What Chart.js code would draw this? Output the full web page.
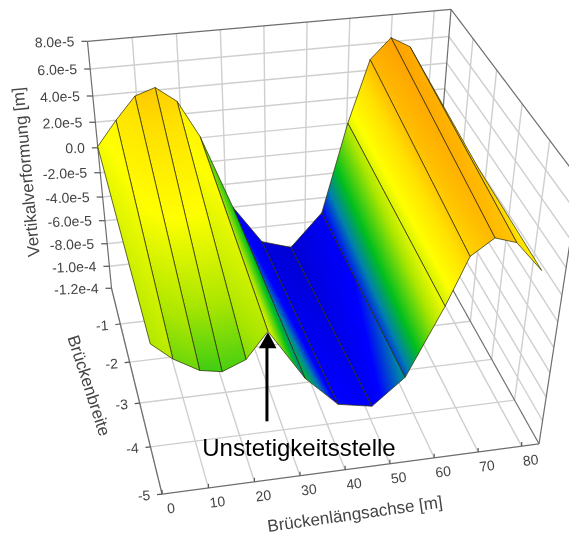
<!DOCTYPE html>
<html><head><meta charset="utf-8"><style>html,body{margin:0;background:#fff}canvas{display:block;filter:blur(0.45px)}</style>
<script src="https://cdn.jsdelivr.net/npm/chart.js@4"></script></head>
<body><canvas id="c" width="569" height="535"></canvas>
<script>
// ---- data ----
const backX = [0, 4.8, 9.6, 14.4, 19.3, 24.3, 31.7, 38.9, 46.4, 54.3, 60.3, 65.2, 70, 74.7, 79.2];
const frontX = [0, 4.2, 9.4, 13.9, 18.8, 23.3, 30.9, 38, 45.3, 52.1, 59.4, 63.6, 68.3, 72.9, 78.9];
const backY = [0,0,0,0,0,0,0,0,0,0,0,0,0,0,-2.5];
const frontY = [-5,-5,-5,-5,-5,-5,-5,-5,-5,-5,-5,-5,-5,-5,-5];
const backZ = [0.1e-5,2.0e-5,3.7e-5,4.2e-5,3.0e-5,0.1e-5,-6.0e-5,-9.3e-5,-10.1e-5,-7.3e-5,0,4.8e-5,6.3e-5,5.5e-5,2.2e-5];
const frontZ = [0,-1.3e-5,-2.4e-5,-2.7e-5,-2.0e-5,-0.1e-5,-4.0e-5,-6.4e-5,-6.9e-5,-4.9e-5,0.2e-5,3.6e-5,4.7e-5,4.2e-5,2.0e-5];
const xTicks = [0,10,20,30,40,50,60,70,80];
const yTicks = [0,-1,-2,-3,-4,-5];
const zTicks = [8e-5,6e-5,4e-5,2e-5,0,-2e-5,-4e-5,-6e-5,-8e-5,-1e-4,-1.2e-4];
const zTickLabels = ["8.0e-5","6.0e-5","4.0e-5","2.0e-5","0.0","-2.0e-5","-4.0e-5","-6.0e-5","-8.0e-5","-1.0e-4","-1.2e-4"];
const xMax = 84, yMin = -5, zMin = -1.2e-4, zMax = 8e-5;
const xTitle = "Brückenlängsachse [m]", yTitle = "Brückenbreite", zTitle = "Vertikalverformung [m]", noteText = "Unstetigkeitsstelle";
const colorStops = [[-10.5e-5,"rgb(0,0,205)"],[-6.5e-5,"rgb(0,0,255)"],[-5e-5,"rgb(0,130,170)"],[-3.5e-5,"rgb(0,190,30)"],[-1e-5,"rgb(170,230,0)"],[1e-5,"rgb(255,255,0)"],[3e-5,"rgb(255,225,0)"],[4.5e-5,"rgb(255,190,0)"],[6.5e-5,"rgb(255,155,0)"]];

// ---- camera: perspective projection of the box onto the scale plane ----
const cam = [111.532,318.357,24.6471,-34.6625,288.271,-26.4844,126.895,-251.957,0.0310238,-0.159733,-0.121];
function project(x,y,z){
  const u=x/80, v=-y/5, w=(z-zMin)/(zMax-zMin);
  const d=1+cam[8]*u+cam[9]*v+cam[10]*w;
  return {x:(cam[0]+cam[1]*u+cam[2]*v+cam[3]*w)/d, y:(cam[4]+cam[5]*u+cam[6]*v+cam[7]*w)/d};
}
const seg=(a,b,color,width)=>({data:[project(...a),project(...b)],borderColor:color,borderWidth:width,pointRadius:0,showLine:true,fill:false,parsing:false});
const GRID="#cfcfcf", FRAME="#6e6e6e", TICK="#555";
const under=[];
// back wall, floor, right wall grid
zTicks.slice(1,-1).forEach(z=>{under.push(seg([0,0,z],[xMax,0,z],GRID,1.4));under.push(seg([xMax,0,z],[xMax,yMin,z],GRID,1.4));});
xTicks.slice(1).forEach(x=>{under.push(seg([x,0,zMin],[x,0,zMax],GRID,1.4));});
xTicks.forEach(x=>{under.push(seg([x,yMin,zMin],[x,0,zMin],GRID,1.4));});
yTicks.slice(1,-1).forEach(y=>{under.push(seg([0,y,zMin],[xMax,y,zMin],GRID,1.4));under.push(seg([xMax,y,zMin],[xMax,y,zMax],GRID,1.4));});
// frame
[[[0,0,zMin],[0,0,zMax]],[[0,0,zMax],[xMax,0,zMax]],[[xMax,0,zMax],[xMax,0,zMin]],[[0,0,zMin],[0,yMin,zMin]],[[0,yMin,zMin],[xMax,yMin,zMin]],[[xMax,yMin,zMin],[xMax,0,zMin]],[[xMax,0,zMax],[xMax,yMin,zMax]],[[xMax,yMin,zMax],[xMax,yMin,zMin]]]
 .forEach(s=>under.push(seg(s[0],s[1],FRAME,1.2)));

// surface: one closed polygon per panel, painted right to left
function zGradient(ctx){
  const ds=ctx.dataset, chart=ctx.chart;
  if(!ds||!ds.corners) return "rgba(0,0,0,0)";
  const sx=chart.scales.x, sy=chart.scales.y;
  const P=ds.corners.map(c=>[sx.getPixelForValue(c.x),sy.getPixelForValue(c.y),c.z*1e5]);
  const mx=P.reduce((s,p)=>s+p[0],0)/4,my=P.reduce((s,p)=>s+p[1],0)/4,mz=P.reduce((s,p)=>s+p[2],0)/4;
  let a=0,b=0,c=0,e=0,f=0;
  P.forEach(p=>{const X=p[0]-mx,Y=p[1]-my,Z=p[2]-mz;a+=X*X;b+=X*Y;c+=Y*Y;e+=X*Z;f+=Y*Z;});
  const D=a*c-b*b; const gx=(e*c-f*b)/D, gy=(a*f-b*e)/D, g2=gx*gx+gy*gy;
  const lo=colorStops[0][0]*1e5, hi=colorStops[colorStops.length-1][0]*1e5;
  if(!isFinite(g2)||g2<1e-7) return colorAt(mz);
  const grad=chart.ctx.createLinearGradient(mx+gx*(lo-mz)/g2,my+gy*(lo-mz)/g2,mx+gx*(hi-mz)/g2,my+gy*(hi-mz)/g2);
  colorStops.forEach(s=>grad.addColorStop((s[0]*1e5-lo)/(hi-lo),s[1]));
  return grad;
}
function colorAt(z){let best=colorStops[0];colorStops.forEach(s=>{if(Math.abs(s[0]*1e5-z)<Math.abs(best[0]*1e5-z))best=s;});return best[1];}
const panels=[];
for(let i=backX.length-2;i>=0;i--){
  const c=[[backX[i],backY[i],backZ[i]],[backX[i+1],backY[i+1],backZ[i+1]],[frontX[i+1],frontY[i+1],frontZ[i+1]],[frontX[i],frontY[i],frontZ[i]]]
    .map(n=>({...project(n[0],n[1],n[2]),z:n[2]}));
  panels.push({data:[...c,c[0]].map(p=>({x:p.x,y:p.y})),corners:c,showLine:true,fill:'shape',backgroundColor:zGradient,borderColor:"rgba(45,45,0,0.72)",borderWidth:1,borderJoinStyle:'round',pointRadius:0,tension:0,parsing:false});
}
const datasets=[...under,...panels];
datasets.forEach((d,i)=>{d.order=datasets.length-i;});

const labelsPlugin={id:'labels3d',afterDatasetsDraw(chart){
  const g=chart.ctx,sx=chart.scales.x,sy=chart.scales.y;
  const px=p=>({x:sx.getPixelForValue(p.x),y:sy.getPixelForValue(p.y)});
  const text=(s,x,y,rot,font,color,align)=>{g.save();g.translate(x,y);g.rotate(rot*Math.PI/180);g.font=font;g.fillStyle=color;g.textAlign=align||'center';g.textBaseline='middle';g.fillText(s,0,0);g.restore();};
  const tick=(a,dx,dy)=>{g.beginPath();g.moveTo(a.x,a.y);g.lineTo(a.x+dx,a.y+dy);g.strokeStyle=TICK;g.lineWidth=1.2;g.stroke();};
  const TF="14px 'Liberation Sans'",TC="#444",AF="17px 'Liberation Sans'";
  zTicks.forEach((z,i)=>{const a=px(project(0,0,z));tick(a,-6,0);text(zTickLabels[i],a.x-13,a.y+1,-2,TF,TC,'right');});
  yTicks.slice(1).forEach(y=>{const a=px(project(0,y,zMin));tick(a,-5,0.5);text(String(y),a.x-18,a.y+2.5,-4,TF,TC);});
  xTicks.forEach(x=>{const a=px(project(x,yMin,zMin));tick(a,0,-4);text(String(x),a.x+9,a.y+15,-7,TF,TC);});
  text(zTitle,27,172,-95.5,AF,TC);
  text(yTitle,88,386,72,AF,TC);
  text(xTitle,355,515,-8,AF,TC);
  // note and arrow pointing at the front node of the discontinuity
  const t=px(project(frontX[5],frontY[5],frontZ[5]));
  const ax=t.x-1;
  g.save();g.fillStyle="#000";g.strokeStyle="#000";
  g.lineWidth=3;g.beginPath();g.moveTo(ax,t.y+14);g.lineTo(ax,t.y+90);g.stroke();
  g.beginPath();g.moveTo(t.x,t.y+1);g.lineTo(t.x+8.5,t.y+17);g.lineTo(t.x-9,t.y+17);g.closePath();g.fill();g.restore();
  text(noteText,299,449,0,"24px 'Liberation Sans'","#000");
}};
new Chart(document.getElementById('c'),{type:'scatter',data:{datasets},plugins:[labelsPlugin],options:{
  responsive:false,animation:false,
  layout:{padding:0},
  plugins:{legend:{display:false},tooltip:{enabled:false}},
  elements:{line:{tension:0}},
  scales:{x:{type:'linear',min:0,max:569,display:false},y:{type:'linear',min:0,max:535,reverse:true,display:false}}
}});
</script></body></html>
